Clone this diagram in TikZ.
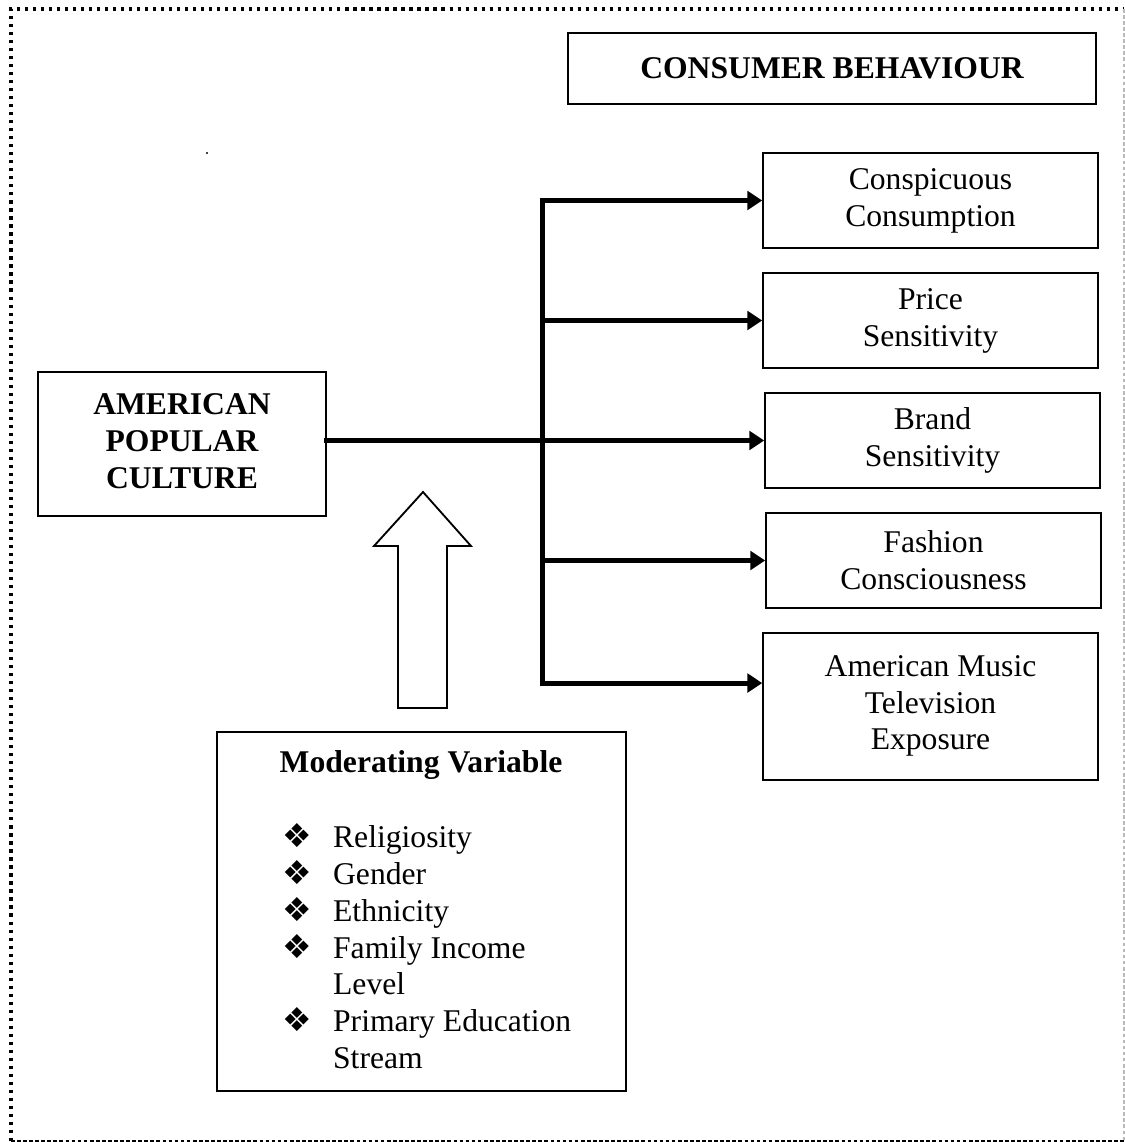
\documentclass[tikz,border=0pt]{standalone}
\usepackage{fontspec}
\setmainfont{Liberation Serif}
\newfontfamily\symfont{DejaVu Sans}
\usetikzlibrary{arrows.meta}

\newcommand{\bodyfont}{\fontsize{12}{14}\selectfont}
\newcommand{\bul}{{\symfont\fontsize{12.5}{14}\selectfont ❖}}

\tikzset{
  box/.style={draw, line width=0.7pt, align=center, inner sep=0pt, font=\bodyfont},
  title/.style={box, font=\bodyfont\bfseries},
  effect/.style={box, minimum width=127pt, minimum height=36pt, execute at begin node=\rule{0pt}{11pt}},
  link/.style={line width=1.9pt, line cap=rect},
  feed/.style={link, -{Triangle[length=5.6pt, width=7pt]}},
}

\begin{document}
\begin{tikzpicture}[x=0.3794pt, y=-0.3794pt]
  \useasboundingbox (0,0) rectangle (1125,1142);

  % frame
  \draw[line width=1.2pt, dash pattern=on 1.2pt off 1.84pt] (11,1141) -- (11,9) -- (1124,9);
  \draw[line width=0.45pt, dash pattern=on 1.4pt off 0.9pt] (11,1141) -- (1124,1141);
  \draw[gray!55, line width=0.4pt, dash pattern=on 1.4pt off 0.9pt] (1124,9) -- (1124,1141);
  \fill (207,153) circle (0.45pt);

  \node[title, minimum width=200.3pt, minimum height=26.9pt] (behaviour) at (832,68.5) {CONSUMER BEHAVIOUR};

  \node[effect] (conspicuous) at (930.5,200.5) {Conspicuous\\Consumption};
  \node[effect] (price) at (930.5,320.5) {Price\\Sensitivity};
  \node[effect] (brand) at (932.5,440.5) {Brand\\Sensitivity};
  \node[effect] (fashion) at (933.5,560.5) {Fashion\\Consciousness};
  \node[effect, minimum height=55.8pt] (music) at (930.5,706.5) {American Music\\Television\\Exposure\\[-11pt]};

  \node[title, minimum width=109.3pt, minimum height=54.6pt] (culture) at (182,444) {AMERICAN\\POPULAR\\CULTURE\\[-11.5pt]};

  \coordinate (hub) at (542,440);
  \coordinate (musicin) at ([yshift=8.9pt]music.west);

  \draw[link] (culture.east |- hub) -- (hub);
  \draw[link] (hub |- conspicuous.west) -- (hub |- musicin);
  \draw[feed] (hub |- conspicuous.west) -- (conspicuous.west);
  \draw[feed] (hub |- price.west) -- (price.west);
  \draw[feed] (hub |- brand.west) -- (brand.west);
  \draw[feed] (hub |- fashion.west) -- (fashion.west);
  \draw[feed] (hub |- musicin) -- (musicin);

  % moderating variable
  \node[box, minimum width=155.2pt, minimum height=136.2pt] (moderating) at (421.5,911.5) {};
  \node[font=\bodyfont\bfseries] (modtitle) at (421,765) {Moderating Variable};
  \node[anchor=north west, inner sep=0pt, font=\bodyfont] (factors) at (282,821) {%
    \begin{tabular}{@{}l@{\hspace{8pt}}l@{}}
      \bul & Religiosity\\
      \bul & Gender\\
      \bul & Ethnicity\\
      \bul & Family Income\\
           & Level\\
      \bul & Primary Education\\
           & Stream
    \end{tabular}};

  \draw[line width=0.7pt, fill=white] (398,708) -- (398,546) -- (374,546) -- (423,492)
    -- (471,546) -- (447,546) -- (447,708) -- cycle;
\end{tikzpicture}
\end{document}
